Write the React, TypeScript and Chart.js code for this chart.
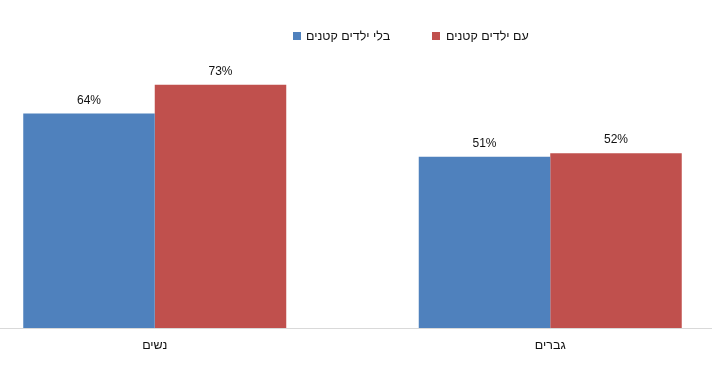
import React, { useEffect, useRef } from "react";
import { Chart, registerables } from "chart.js";

Chart.register(...registerables);

const categories = ["נשים", "גברים"];
const seriesNames = ["בלי ילדים קטנים", "עם ילדים קטנים"];
const withoutKids = [64, 51.1];
const withKids = [72.6, 52.2];
const colors = ["#4F81BD", "#C0504D"];
const FONT = "'Liberation Sans', Arial, sans-serif";

const labelPlugin = {
  id: "barLabels",
  afterDatasetsDraw(chart: any) {
    const ctx = chart.ctx;
    ctx.save();
    ctx.font = `12px ${FONT}`;
    ctx.fillStyle = "#111";
    ctx.textAlign = "center";
    ctx.textBaseline = "middle";
    chart.data.datasets.forEach((ds: any, i: number) => {
      const meta = chart.getDatasetMeta(i);
      meta.data.forEach((el: any, j: number) => {
        const v = ds.data[j];
        ctx.fillText(Math.round(v) + "%", el.x, el.y - 13);
      });
    });
    ctx.restore();
  },
};

export default function App() {
  const ref = useRef<HTMLCanvasElement>(null);
  useEffect(() => {
    const chart = new Chart(ref.current!, {
      type: "bar",
      data: {
        labels: categories,
        datasets: [
          { label: seriesNames[0], data: withoutKids, backgroundColor: colors[0], barPercentage: 1, categoryPercentage: 0.665 },
          { label: seriesNames[1], data: withKids, backgroundColor: colors[1], barPercentage: 1, categoryPercentage: 0.665 },
        ],
      },
      options: {
        responsive: false,
        animation: false,
        layout: { padding: { top: 60, bottom: 9, left: 0, right: 0 } },
        plugins: { legend: { display: false }, tooltip: { enabled: false } },
        scales: {
          y: { display: false, min: 0, max: 80 },
          x: {
            grid: { display: false, drawTicks: false },
            border: { display: true, color: "#D9D9D9", width: 1 },
            ticks: { padding: 10, color: "#111", font: { family: FONT, size: 12.5 } },
          },
        },
      },
      plugins: [labelPlugin],
    });
    return () => chart.destroy();
  }, []);

  const legendItem = (left: number, textLeft: number, color: string, text: string) => (
    <>
      <div style={{ position: "absolute", left, top: 32, width: 8, height: 8, background: color }} />
      <div
        dir="rtl"
        style={{ position: "absolute", left: textLeft, top: 28, font: `12.5px ${FONT}`, color: "#111", whiteSpace: "nowrap", lineHeight: "16px" }}
      >
        {text}
      </div>
    </>
  );

  return (
    <div style={{ position: "fixed", left: 0, top: 0, width: 712, height: 372, overflow: "hidden", background: "#fff" }}>
      <div style={{ position: "absolute", left: -43, top: 0, width: 791, height: 372 }}>
        <canvas ref={ref} width={791} height={372} style={{ width: 791, height: 372, display: "block" }} />
      </div>
      {legendItem(293, 306, colors[0], seriesNames[0])}
      {legendItem(432, 446, colors[1], seriesNames[1])}
    </div>
  );
}
